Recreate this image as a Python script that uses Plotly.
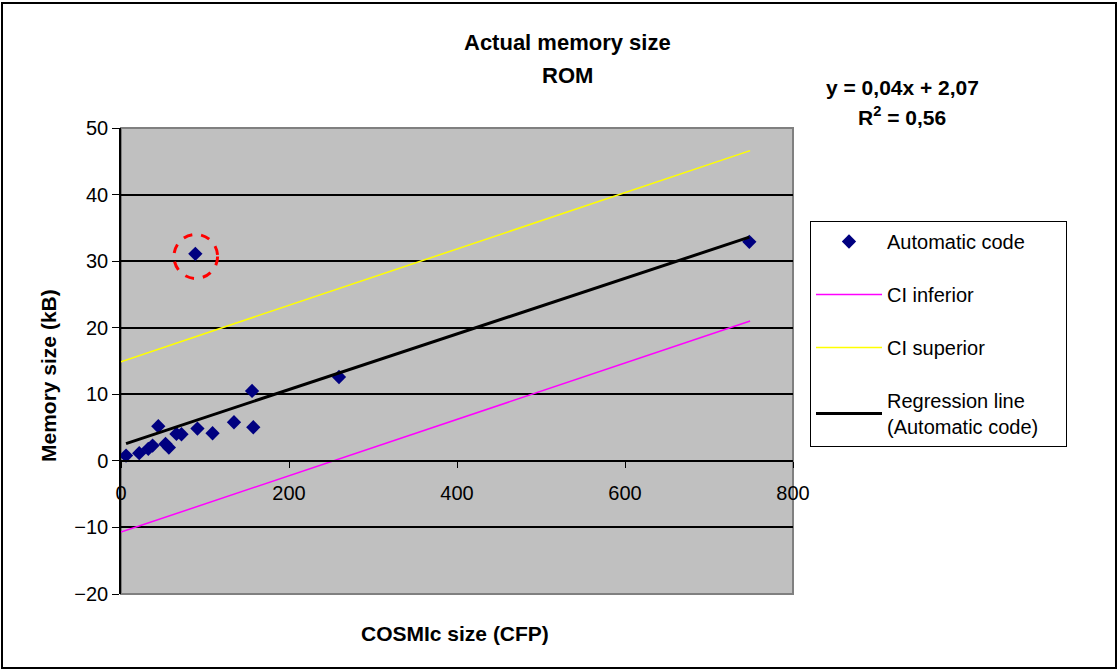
import plotly.graph_objects as go

# Data
cfp = [6, 21.7, 32.5, 37.6, 44.4, 53, 57, 66, 72, 88.5, 91, 109, 134.5, 156, 157.5, 259.5, 748]
rom = [0.8, 1.15, 1.8, 2.3, 5.2, 2.55, 2.0, 4.05, 4.0, 31.1, 4.85, 4.15, 5.8, 10.5, 5.05, 12.6, 32.9]

reg_x = [6, 748]
reg_y = [2.6, 33.6]
ci_x = [0, 749]
ci_inf_y = [-10.7, 21.0]
ci_sup_y = [14.9, 46.6]

outlier_x = 89
outlier_y = 30.7

FONT = "Liberation Sans, Arial, sans-serif"

fig = go.Figure()
fig.add_trace(go.Scatter(x=cfp, y=rom, mode="markers", name="Automatic code",
                         marker=dict(symbol="diamond", color="#000080", size=11),
                         legendgroup="a"))
fig.add_trace(go.Scatter(x=ci_x, y=ci_inf_y, mode="lines", name="CI inferior",
                         line=dict(color="#FF00FF", width=1.5), legendgroup="b"))
fig.add_trace(go.Scatter(x=ci_x, y=ci_sup_y, mode="lines", name="CI superior",
                         line=dict(color="#FFFF00", width=1.5), legendgroup="c"))
fig.add_trace(go.Scatter(x=reg_x, y=reg_y, mode="lines",
                         name="Regression line<br>(Automatic code)&nbsp;&nbsp;&nbsp;&nbsp;",
                         line=dict(color="black", width=3), legendgroup="d"))

L, R, T, B = 121, 1118 - 793, 128, 670 - 594
W = 1118 - L - R
H = 670 - T - B

def px_x(p):
    return (p - L) / W

def px_y(p):
    return (670 - B - p) / H

def ann(text, x, y, size, angle=0):
    return dict(text=text, xref="paper", yref="paper", x=px_x(x), y=px_y(y),
                xanchor="center", yanchor="middle", showarrow=False,
                textangle=angle, font=dict(size=size), align="center")

fig.update_layout(
    width=1118, height=670,
    margin=dict(l=L, r=R, t=T, b=B),
    paper_bgcolor="white",
    plot_bgcolor="#C0C0C0",
    font=dict(family=FONT, size=20, color="black"),
    showlegend=True,
    legend=dict(x=px_x(810), y=px_y(221), xanchor="left", yanchor="top",
                bgcolor="white", bordercolor="black", borderwidth=1,
                font=dict(size=20), tracegroupgap=24, traceorder="grouped",
                itemwidth=66),
    xaxis=dict(range=[0, 800], dtick=200, tick0=0, showgrid=False, zeroline=False,
               anchor="free", position=20 / 70, showline=True, linecolor="black", linewidth=1.5,
               ticks="outside", ticklen=6, tickcolor="black", ticklabelstandoff=8,
               tickfont=dict(size=20)),
    yaxis=dict(range=[-20, 50], dtick=10, tick0=0, showgrid=True, gridcolor="black", gridwidth=1.5,
               zeroline=False, showline=True, linecolor="black", linewidth=1.5,
               ticks="outside", ticklen=7, tickcolor="black",
               tickfont=dict(size=20)),
    shapes=[
        dict(type="rect", xref="paper", yref="paper", x0=0, x1=1, y0=0, y1=1,
             line=dict(color="#808080", width=2), layer="below"),
        dict(type="line", xref="paper", yref="y", x0=0, x1=1, y0=0, y1=0,
             line=dict(color="black", width=1.5)),
        dict(type="circle", xref="x", yref="y",
             x0=outlier_x - 26, x1=outlier_x + 26, y0=outlier_y - 3.3, y1=outlier_y + 3.3,
             line=dict(color="red", width=3, dash="dash")),
        dict(type="rect", xref="paper", yref="paper",
             x0=px_x(2), x1=px_x(1116), y0=px_y(668), y1=px_y(3),
             line=dict(color="black", width=2)),
    ],
    annotations=[
        ann("<b>Actual memory size</b>", 567, 42, 22),
        ann("<b>ROM</b>", 567, 75, 22),
        ann("<b>y = 0,04x + 2,07</b>", 902, 87, 21),
        ann("<b>R<sup>2</sup> = 0,56</b>", 902, 116, 21),
        ann("<b>Memory size (kB)</b>", 48, 376, 21, -90),
        ann("<b>COSMIc size (CFP)</b>", 455, 633, 21),
    ],
)

fig.write_html("out.html")
